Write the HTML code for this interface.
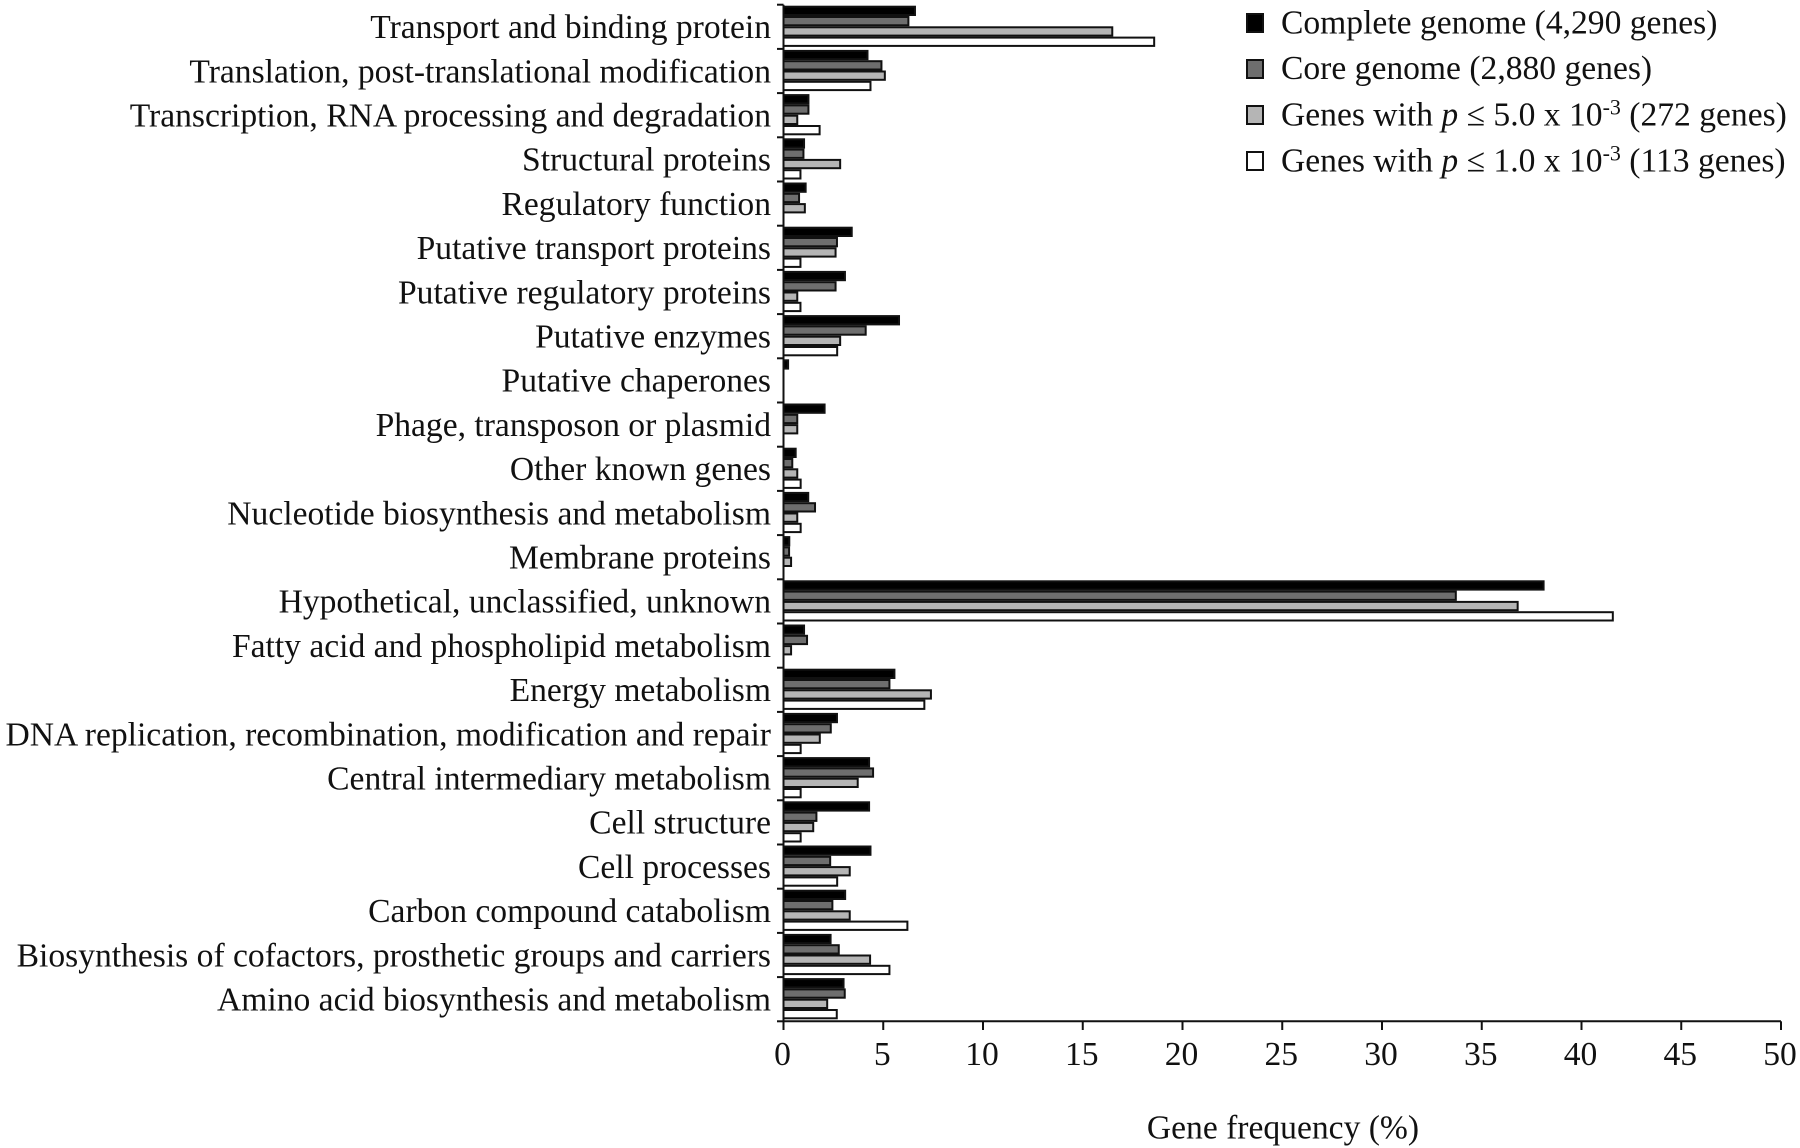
<!DOCTYPE html>
<html lang="en">
<head>
<meta charset="utf-8">
<title>Gene frequency by functional category</title>
<style>
html,body{margin:0;padding:0;background:#fff;width:1800px;height:1148px;overflow:hidden}
svg{display:block}
text{font-family:"Liberation Serif","Times New Roman",serif;fill:#111}
</style>
</head>
<body>
<svg id="chart" xmlns="http://www.w3.org/2000/svg" width="1800" height="1148" viewBox="0 0 1800 1148">
  <g id="plot"></g>
  <g font-size="33.6">
    <g>
      <rect x="1247" y="14" width="16" height="18" fill="#000" stroke="#111" stroke-width="2"/>
      <text x="1281" y="33.5">Complete genome (4,290 genes)</text>
    </g>
    <g>
      <rect x="1247" y="60" width="16" height="18" fill="#6e6e6e" stroke="#111" stroke-width="2"/>
      <text x="1281" y="79">Core genome (2,880 genes)</text>
    </g>
    <g>
      <rect x="1247" y="106" width="16" height="18" fill="#b5b5b5" stroke="#111" stroke-width="2"/>
      <text x="1281" y="125.5">Genes with <tspan font-style="italic">p</tspan> ≤ 5.0 x 10<tspan dy="-11" font-size="22">-3</tspan><tspan dy="11"> (272 genes)</tspan></text>
    </g>
    <g>
      <rect x="1247" y="152" width="16" height="18" fill="#fff" stroke="#111" stroke-width="2"/>
      <text x="1281" y="171.5">Genes with <tspan font-style="italic">p</tspan> ≤ 1.0 x 10<tspan dy="-11" font-size="22">-3</tspan><tspan dy="11"> (113 genes)</tspan></text>
    </g>
  </g>
  <text x="1283" y="1138.5" font-size="33.6" text-anchor="middle">Gene frequency (%)</text>
</svg>
<script>
const categories = [
  "Transport and binding protein",
  "Translation, post-translational modification",
  "Transcription, RNA processing and degradation",
  "Structural proteins",
  "Regulatory function",
  "Putative transport proteins",
  "Putative regulatory proteins",
  "Putative enzymes",
  "Putative chaperones",
  "Phage, transposon or plasmid",
  "Other known genes",
  "Nucleotide biosynthesis and metabolism",
  "Membrane proteins",
  "Hypothetical, unclassified, unknown",
  "Fatty acid and phospholipid metabolism",
  "Energy metabolism",
  "DNA replication, recombination, modification and repair",
  "Central intermediary metabolism",
  "Cell structure",
  "Cell processes",
  "Carbon compound catabolism",
  "Biosynthesis of cofactors, prosthetic groups and carriers",
  "Amino acid biosynthesis and metabolism"
];
const completeGenome = [6.64,4.26,1.3,1.08,1.16,3.47,3.13,5.84,0.28,2.11,0.66,1.29,0.34,38.15,1.08,5.61,2.73,4.34,4.34,4.41,3.14,2.41,3.06];
const coreGenome = [6.31,4.96,1.3,1.05,0.83,2.73,2.66,4.17,0,0.74,0.49,1.63,0.33,33.75,1.23,5.36,2.42,4.54,1.7,2.39,2.5,2.82,3.12];
const genesP5 = [16.53,5.13,0.74,2.89,1.12,2.66,0.74,2.89,0,0.74,0.74,0.74,0.43,36.85,0.43,7.44,1.87,3.77,1.54,3.37,3.37,4.39,2.24];
const genesP1 = [18.63,4.41,1.86,0.9,0,0.9,0.9,2.74,0,0,0.91,0.91,0,41.62,0,7.11,0.91,0.91,0.91,2.74,6.26,5.36,2.72];
const xTickLabels = [0,5,10,15,20,25,30,35,40,45,50];

const seriesValues = [completeGenome, coreGenome, genesP5, genesP1];
const seriesNames = ["complete", "core", "p5", "p1"];
const seriesFills = ["#000000", "#6e6e6e", "#b5b5b5", "#ffffff"];

const NS = "http://www.w3.org/2000/svg";
const plot = document.getElementById("plot");
const x0 = 783.5, x1 = 1781, xMax = 50;
const yTop = 4.7, yBottom = 1021.3;
const band = (yBottom - yTop) / categories.length;
const barStep = 10.3, stroke = 2;

function xScale(v) { return x0 + (v / xMax) * (x1 - x0); }
function yScale(i) { return yTop + i * band; }
function make(tag, attrs, text) {
  const el = document.createElementNS(NS, tag);
  for (const k in attrs) el.setAttribute(k, attrs[k]);
  if (text !== undefined) el.textContent = text;
  plot.appendChild(el);
  return el;
}

categories.forEach(function (name, i) {
  const top = yScale(i);
  const label = make("text", {x: 771, y: top + band / 2 + 11.3, "font-size": 33.6, "text-anchor": "end"}, name);
  
  
  seriesValues.forEach(function (vals, s) {
    const w = xScale(vals[i]) - x0;
    const bar = make("rect", {
      x: x0,
      y: top + 1 + s * barStep + stroke / 2,
      width: Math.max(0, w - stroke / 2),
      height: barStep - stroke,
      fill: seriesFills[s],
      stroke: "#111",
      "stroke-width": stroke
    });
    
    
  });
});

for (let i = 0; i <= categories.length; i++) {
  const t = make("line", {x1: 777, x2: x0, y1: yScale(i), y2: yScale(i), stroke: "#111", "stroke-width": 2});
  
  
}

xTickLabels.forEach(function (v) {
  const x = xScale(v);
  const t = make("line", {x1: x, x2: x, y1: yBottom, y2: 1030, stroke: "#111", "stroke-width": 2});
  
  
  const l = make("text", {x: x - 1, y: 1065, "font-size": 33.6, "text-anchor": "middle"}, v);
  
  
});

const yAxis = make("line", {x1: x0, x2: x0, y1: yTop, y2: yBottom, stroke: "#111", "stroke-width": 2});


const xAxis = make("line", {x1: x0, x2: x1, y1: yBottom, y2: yBottom, stroke: "#111", "stroke-width": 2});


</script>
</body>
</html>
